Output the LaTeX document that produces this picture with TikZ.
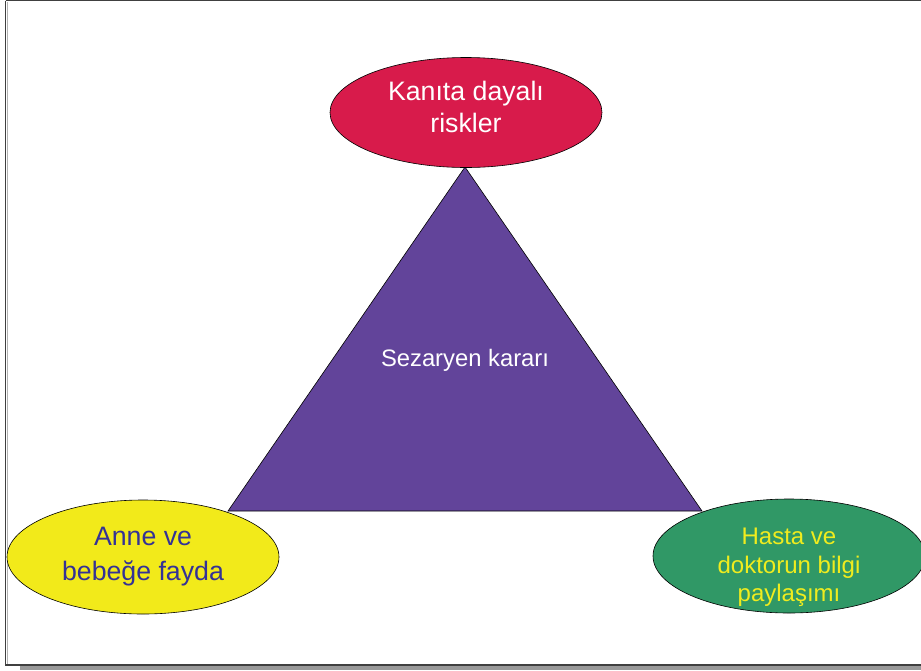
\documentclass[tikz,border=0pt]{standalone}
\usepackage{fontspec}
\setmainfont{Liberation Sans}
\usetikzlibrary{shapes.geometric}

\definecolor{riskred}{RGB}{216,27,75}
\definecolor{kararpurple}{RGB}{98,68,154}
\definecolor{faydayellow}{RGB}{242,234,26}
\definecolor{faydablue}{RGB}{52,50,150}
\definecolor{bilgigreen}{RGB}{48,152,102}
\definecolor{textyellow}{RGB}{240,236,30}

\tikzset{
  oval/.style={ellipse, draw=black, line width=0.6pt, minimum width=272pt,
               minimum height=112pt, inner sep=0pt, align=center},
}

\begin{document}
\begin{tikzpicture}[x=1pt, y=-1pt]
  \useasboundingbox (0,0) rectangle (921,670);
  % page frame with its shadow
  \fill[gray!80] (20,665) rectangle (921,670);
  \draw[line width=1.2pt, black!75] (5.5,0.5) -- (5.5,665) -- (921,665);
  \draw[line width=1.2pt, black!75] (5.5,0.8) -- (921,0.8);
  \draw[gray!60, line width=0.8pt] (7.2,2) -- (7.2,663.5);

  % central triangle
  \filldraw[fill=kararpurple, draw=black, line width=0.6pt]
    (465,167) -- (702,511) -- (228,511) -- cycle;
  \node[white, font=\fontsize{23.8}{28}\selectfont] (karar) at (465,360) {Sezaryen kararı};

  % the three corners
  \node[oval, fill=riskred, text=white, minimum height=110pt, text depth=11pt,
        font=\fontsize{26.7}{32.5}\selectfont] (risk) at (466,112.5)
    {Kanıta dayalı\\riskler};
  \node[oval, fill=faydayellow, text=faydablue, minimum height=114pt,
        font=\fontsize{26.7}{35}\selectfont] (fayda) at (143,557)
    {Anne ve\\bebeğe fayda};
  % text sits low in this one, so the box is padded on top
  \node[oval, fill=bilgigreen, text=textyellow, minimum height=114pt, text height=97pt,
        inner ysep=-12pt, font=\fontsize{24}{28.5}\selectfont] (bilgi) at (789,556)
    {Hasta ve\\doktorun bilgi\\paylaşımı};
\end{tikzpicture}
\end{document}
